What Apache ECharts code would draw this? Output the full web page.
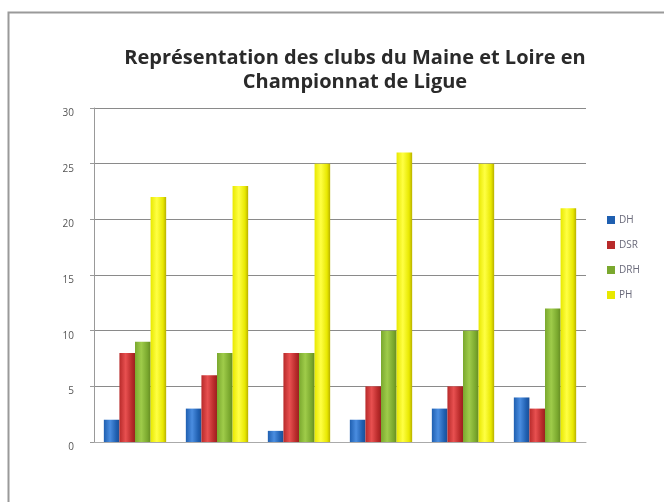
<!DOCTYPE html>
<html><head><meta charset="utf-8">
<script src="https://cdn.jsdelivr.net/npm/echarts@6/dist/echarts.min.js"></script>
<style>html,body{margin:0;padding:0;background:#fff}#c{width:664px;height:502px}</style>
</head><body><div id="c"></div>
<script>
var categories = ['1', '2', '3', '4', '5', '6'];
var seriesNames = ['DH', 'DSR', 'DRH', 'PH'];
var valuesDH = [2, 3, 1, 2, 3, 4];
var valuesDSR = [8, 6, 8, 5, 5, 3];
var valuesDRH = [9, 8, 8, 10, 10, 12];
var valuesPH = [22, 23, 25, 26, 25, 21];
var yTicks = [0, 5, 10, 15, 20, 25, 30];

var colors = [
  ['#1f5fb0', '#4a8de0', '#1c4f96'],
  ['#b82a2a', '#e85050', '#9c2020'],
  ['#7aa82e', '#9fcc4a', '#668c22'],
  ['#e8e800', '#ffff44', '#b8b000']
];
function grad(c) {
  return new echarts.graphic.LinearGradient(0, 0, 1, 0, [
    {offset: 0, color: c[0]}, {offset: 0.4, color: c[1]}, {offset: 0.8, color: c[0]}, {offset: 1, color: c[2]}
  ]);
}
var allValues = [valuesDH, valuesDSR, valuesDRH, valuesPH];
var chart = echarts.init(document.getElementById('c'), null, {renderer: 'canvas'});
chart.setOption({
  animation: false,
  backgroundColor: '#fff',
  graphic: [{
    type: 'rect', shape: {x: 8.5, y: 12.5, width: 700, height: 600},
    style: {fill: 'none', stroke: '#9a9a9a', lineWidth: 2}, silent: true
  }],
  title: {
    text: 'Représentation des clubs du Maine et Loire en\nChampionnat de Ligue',
    left: 350, top: 41, textAlign: 'center',
    textStyle: {fontFamily: 'Open Sans', fontWeight: 'bold', fontSize: 20, color: '#2a2a2a', lineHeight: 24}
  },
  legend: {
    orient: 'vertical', left: 602, top: 210, itemWidth: 8, itemHeight: 8, itemGap: 15,
    icon: 'rect',
    textStyle: {fontFamily: 'Open Sans', fontSize: 10, color: '#6a6a7a', padding: [0, 0, 0, -1]},
    data: seriesNames.map(function (n, i) { return {name: n, itemStyle: {color: colors[i][0]}}; })
  },
  grid: {left: 94, right: 78, top: 108, bottom: 60},
  xAxis: {
    type: 'category', data: categories,
    axisLine: {lineStyle: {color: '#aaa'}}, axisTick: {show: false},
    axisLabel: {show: false}
  },
  yAxis: {
    type: 'value', min: yTicks[0], max: yTicks[yTicks.length - 1], interval: 5,
    axisLine: {show: true, lineStyle: {color: '#999'}},
    axisTick: {show: true, length: 4, lineStyle: {color: '#999'}},
    axisLabel: {fontFamily: 'Open Sans', fontSize: 10, color: '#555', margin: 20, verticalAlign: 'top'},
    splitLine: {lineStyle: {color: '#8a8a8a', width: 1}}
  },
  series: seriesNames.map(function (n, i) {
    return {
      name: n, type: 'bar', data: allValues[i],
      barGap: '0%', barCategoryGap: '24%',
      itemStyle: {color: grad(colors[i])}
    };
  })
});
</script></body></html>
